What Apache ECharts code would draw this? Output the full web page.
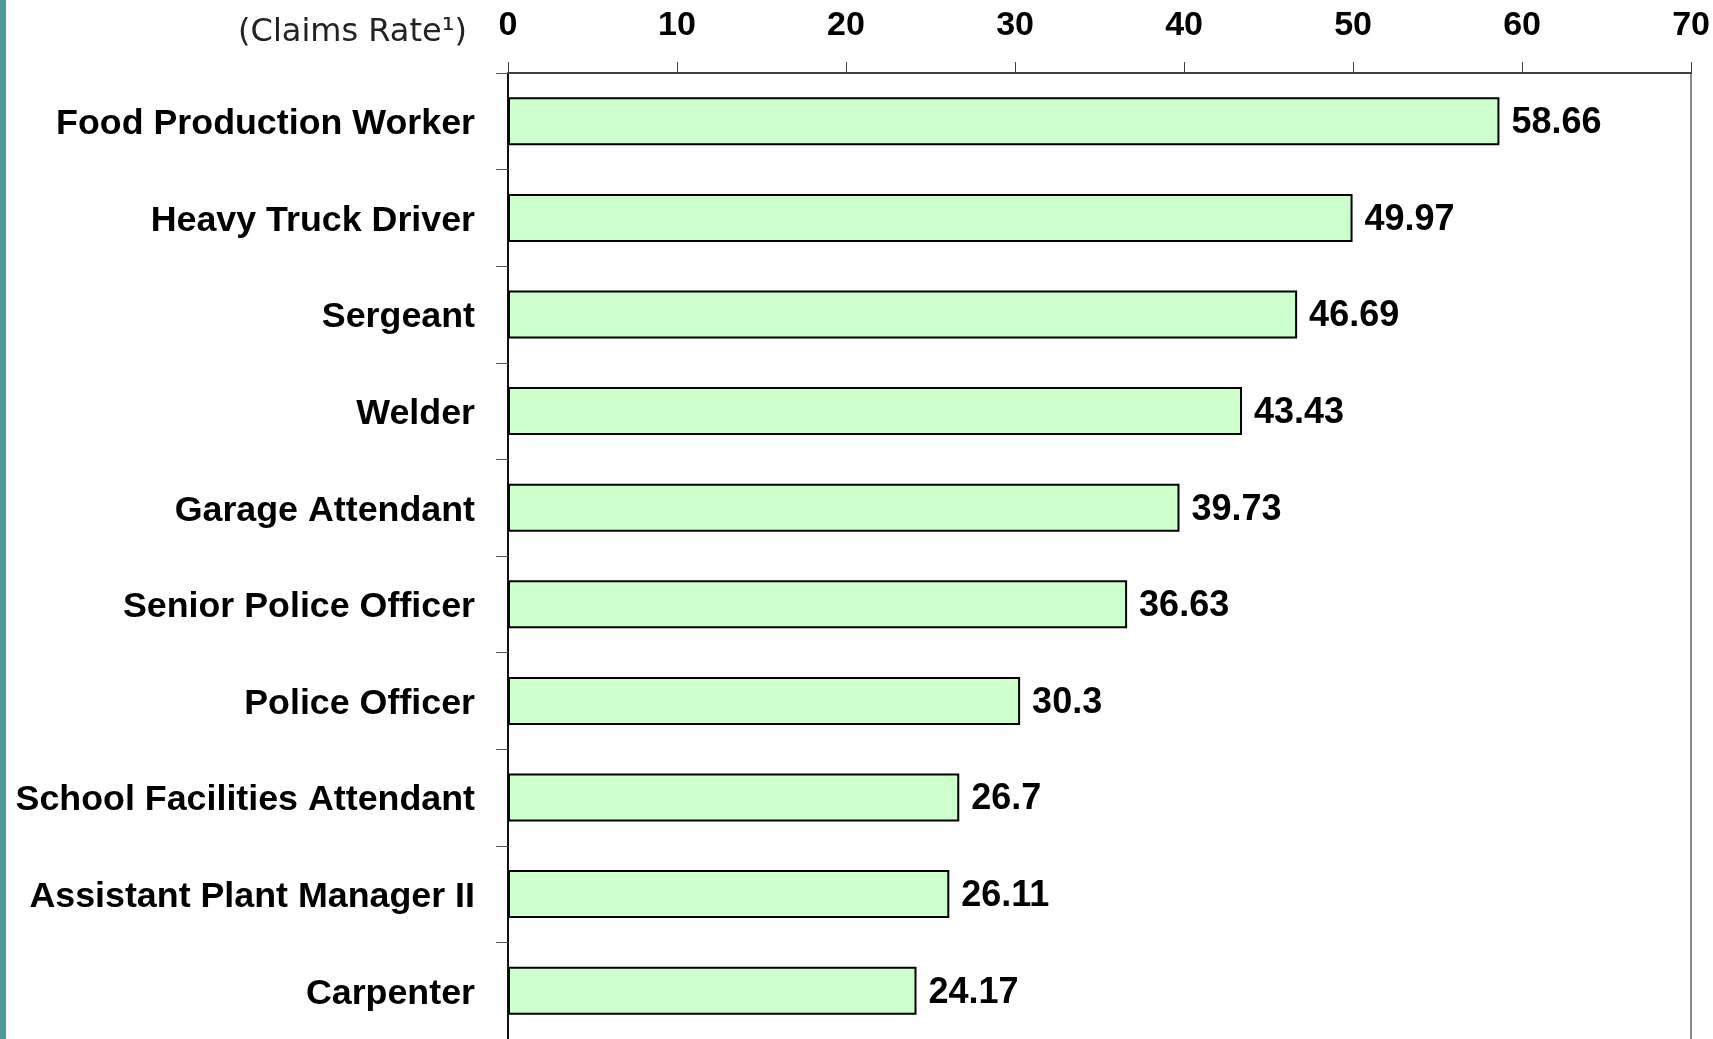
<!DOCTYPE html>
<html>
<head>
<meta charset="utf-8">
<script src="https://cdn.jsdelivr.net/npm/echarts@6/dist/echarts.min.js"></script>
<style>
html,body{margin:0;padding:0;background:#fff;}
#chart{width:1713px;height:1039px;}
</style>
</head>
<body>
<div id="chart"></div>
<script>
const categories = ["Food Production Worker","Heavy Truck Driver","Sergeant","Welder","Garage Attendant","Senior Police Officer","Police Officer","School Facilities Attendant","Assistant Plant Manager II","Carpenter"];
const claimsRate = [58.66,49.97,46.69,43.43,39.73,36.63,30.3,26.7,26.11,24.17];
const xTicks = [0,10,20,30,40,50,60,70];
const axisTitle = "(Claims Rate\u00B9)";

const chart = echarts.init(document.getElementById('chart'), null, {renderer:'canvas'});
const font = '"Liberation Sans", Arial, sans-serif';
chart.setOption({
  animation:false,
  backgroundColor:'#ffffff',
  grid:{left:508, right:19, top:73, height:970, containLabel:false},
  xAxis:{
    type:'value', position:'top', min:xTicks[0], max:xTicks[xTicks.length-1], interval:10,
    splitLine:{show:false},
    axisLine:{show:true, lineStyle:{color:'#404040', width:2}},
    axisTick:{show:true, inside:false, length:11, lineStyle:{color:'#404040', width:1}},
    axisLabel:{margin:30, color:'#000', fontFamily:font, fontWeight:'bold', fontSize:34}
  },
  yAxis:[{
    type:'category', data:categories, inverse:true,
    axisLine:{show:true, lineStyle:{color:'#111', width:2}},
    axisTick:{show:true, length:12, lineStyle:{color:'#555', width:1}},
    axisLabel:{margin:33, color:'#000', fontFamily:font, fontWeight:'bold', fontSize:35.8, verticalAlign:'top', lineHeight:6}
  },{
    type:'category', data:categories, inverse:true, position:'right',
    axisLine:{show:true, lineStyle:{color:'#8c8c8c', width:2}},
    axisTick:{show:false}, axisLabel:{show:false}
  }],
  series:[{
    type:'bar', data:claimsRate, barWidth:48,
    itemStyle:{color:'#ccffcc', borderColor:'#000', borderWidth:2},
    label:{show:true, position:'right', distance:12, offset:[0,2], color:'#000', fontFamily:font, fontWeight:'bold', fontSize:36}
  }],
  graphic:[
    {type:'rect', left:0, top:0, shape:{x:0,y:0,width:6,height:1039}, style:{fill:'#4f9a97'}},
    {type:'text', x:467, y:33, style:{text:axisTitle, fill:'#222', font:'32px "DejaVu Sans", Verdana, sans-serif', textAlign:'right', textVerticalAlign:'middle'}}
  ]
});
</script>
</body>
</html>
